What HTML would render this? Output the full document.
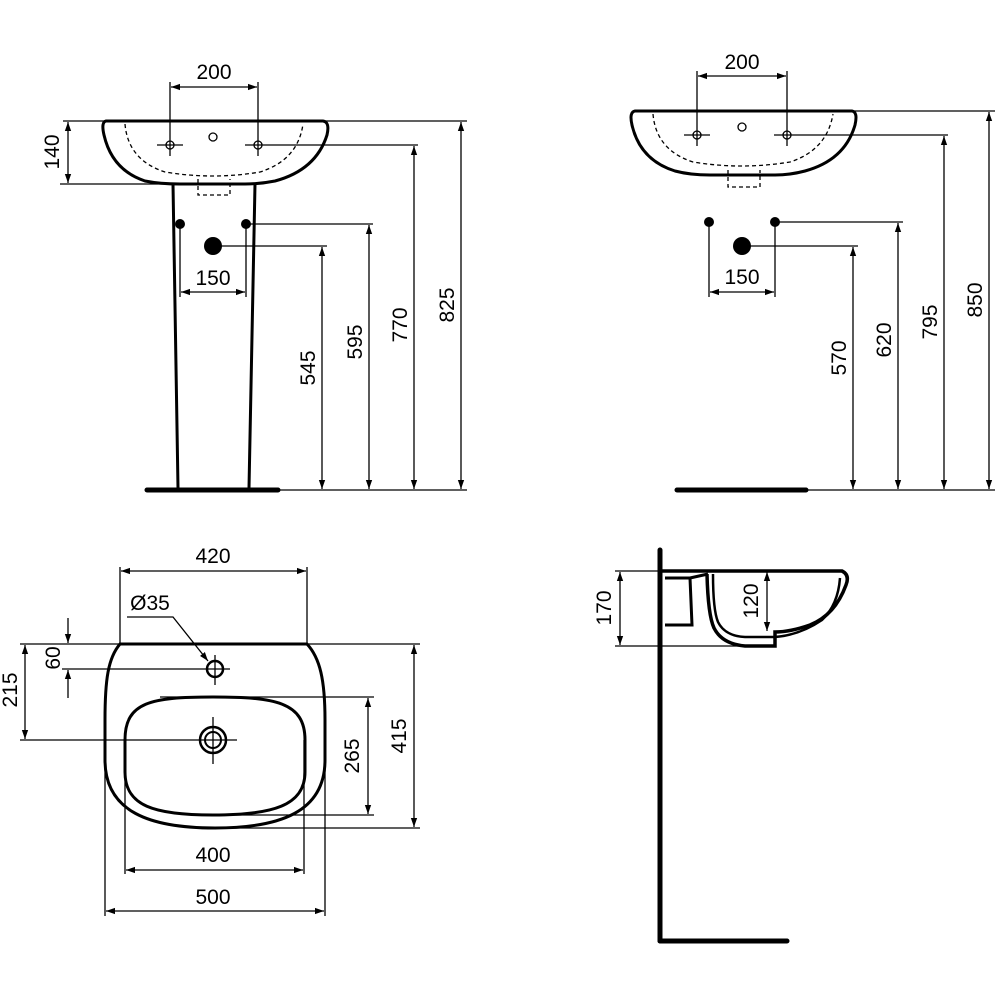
<!DOCTYPE html>
<html><head><meta charset="utf-8"><style>body{margin:0;background:#fff}svg{display:block}</style></head><body>
<svg width="1000" height="1000" viewBox="0 0 1000 1000" xmlns="http://www.w3.org/2000/svg" font-family="Liberation Sans, sans-serif" font-size="21">
<defs>
<marker id="a" viewBox="0 0 10 10" refX="10" refY="5" markerWidth="9" markerHeight="9" orient="auto-start-reverse" markerUnits="userSpaceOnUse"><path d="M0,1.5 L10,5 L0,8.5 z" fill="#000"/></marker>
</defs>
<g stroke="#000" fill="none" stroke-width="1.3">
<!-- ===== TOP LEFT ===== -->
<path d="M106,121 L323,121 Q330,122 327,135 Q316,170 275,181 Q260,184 245,184 L180,184 Q160,184 145,181 Q112,170 104,135 Q101,122 106,121 Z" stroke-width="3"/>
<path d="M125,124 Q128,160 165,172 Q213,180 260,172 Q298,160 303,124" stroke-dasharray="4,3"/>
<path d="M198,179 L198,195 L230,195 L230,179" stroke-dasharray="4,3"/>
<circle cx="213" cy="137" r="4"/>
<circle cx="170" cy="145" r="4"/><circle cx="258" cy="145" r="4"/>
<line x1="157" y1="145" x2="183" y2="145"/><line x1="245" y1="145" x2="418" y2="145"/>
<line x1="170" y1="82" x2="170" y2="156"/><line x1="258" y1="82" x2="258" y2="156"/>
<line x1="171" y1="87" x2="257" y2="87" marker-start="url(#a)" marker-end="url(#a)"/>
<path d="M173,184 L178,488 M255,184 L249,488" stroke-width="3"/>
<line x1="147" y1="490" x2="278" y2="490" stroke-width="5" stroke-linecap="round"/>
<line x1="180" y1="224" x2="180" y2="297"/><line x1="246" y1="224" x2="246" y2="297"/>
<line x1="181" y1="292" x2="245" y2="292" marker-start="url(#a)" marker-end="url(#a)"/>
<line x1="246" y1="224" x2="373" y2="224"/><line x1="213" y1="246" x2="327" y2="246"/>
<line x1="63" y1="121" x2="467" y2="121"/><line x1="60" y1="184" x2="175" y2="184"/>
<line x1="68" y1="122" x2="68" y2="183" marker-start="url(#a)" marker-end="url(#a)"/>
<line x1="278" y1="490" x2="467" y2="490"/>
<line x1="322" y1="247" x2="322" y2="489" marker-start="url(#a)" marker-end="url(#a)"/>
<line x1="369" y1="225" x2="369" y2="489" marker-start="url(#a)" marker-end="url(#a)"/>
<line x1="414" y1="146" x2="414" y2="489" marker-start="url(#a)" marker-end="url(#a)"/>
<line x1="461" y1="122" x2="461" y2="489" marker-start="url(#a)" marker-end="url(#a)"/>
<!-- ===== TOP RIGHT ===== -->
<path d="M635,111 L852,111 Q858,112 855,125 Q845,160 805,171 Q790,175 775,175 L710,175 Q690,175 675,171 Q640,160 632,125 Q629,112 635,111 Z" stroke-width="3"/>
<path d="M653,114 Q656,150 693,162 Q742,170 790,162 Q827,150 833,114" stroke-dasharray="4,3"/>
<path d="M728,170 L728,187 L760,187 L760,170" stroke-dasharray="4,3"/>
<circle cx="742" cy="127" r="4"/>
<circle cx="697" cy="135" r="4"/><circle cx="787" cy="135" r="4"/>
<line x1="684" y1="135" x2="710" y2="135"/><line x1="774" y1="135" x2="948" y2="135"/>
<line x1="697" y1="71" x2="697" y2="146"/><line x1="787" y1="71" x2="787" y2="146"/>
<line x1="698" y1="76" x2="786" y2="76" marker-start="url(#a)" marker-end="url(#a)"/>
<line x1="709" y1="222" x2="709" y2="297"/><line x1="775" y1="222" x2="775" y2="297"/>
<line x1="710" y1="292" x2="774" y2="292" marker-start="url(#a)" marker-end="url(#a)"/>
<line x1="775" y1="222" x2="903" y2="222"/><line x1="742" y1="246" x2="858" y2="246"/>
<line x1="790" y1="111" x2="995" y2="111"/>
<line x1="677" y1="490" x2="806" y2="490" stroke-width="5" stroke-linecap="round"/>
<line x1="806" y1="490" x2="995" y2="490"/>
<line x1="853" y1="247" x2="853" y2="489" marker-start="url(#a)" marker-end="url(#a)"/>
<line x1="898" y1="223" x2="898" y2="489" marker-start="url(#a)" marker-end="url(#a)"/>
<line x1="944" y1="136" x2="944" y2="489" marker-start="url(#a)" marker-end="url(#a)"/>
<line x1="989" y1="112" x2="989" y2="489" marker-start="url(#a)" marker-end="url(#a)"/>
<!-- ===== BOTTOM LEFT ===== -->
<path d="M120,644 L307,644 C320,658 325,680 325,720 L325,760 C325,812 280,828 215,828 C150,828 105,812 105,760 L105,720 C105,680 108,658 120,644 Z" stroke-width="3"/>
<path d="M213,697 C275,697 305,702 305,740 L305,772 C305,806 272,815 213,815 C154,815 125,806 125,772 L125,740 C125,702 151,697 213,697 Z" stroke-width="3"/>
<circle cx="213" cy="740" r="13" stroke-width="2.5"/><circle cx="213" cy="740" r="8" stroke-width="2"/>
<line x1="213" y1="717" x2="213" y2="764"/><line x1="20" y1="740" x2="237" y2="740"/>
<circle cx="215" cy="669" r="8" stroke-width="2.5"/>
<line x1="215" y1="655" x2="215" y2="685"/><line x1="62" y1="669" x2="230" y2="669"/>
<line x1="120" y1="567" x2="120" y2="644"/><line x1="307" y1="567" x2="307" y2="644"/>
<line x1="121" y1="571" x2="306" y2="571" marker-start="url(#a)" marker-end="url(#a)"/>
<path d="M127,617 L173,617 L208,661" marker-end="url(#a)"/>
<line x1="20" y1="644" x2="420" y2="644"/>
<line x1="68" y1="618" x2="68" y2="643" marker-end="url(#a)"/>
<line x1="68" y1="698" x2="68" y2="670" marker-end="url(#a)"/>
<line x1="25" y1="645" x2="25" y2="739" marker-start="url(#a)" marker-end="url(#a)"/>
<line x1="160" y1="697" x2="374" y2="697"/><line x1="215" y1="815" x2="374" y2="815"/>
<line x1="368" y1="698" x2="368" y2="814" marker-start="url(#a)" marker-end="url(#a)"/>
<line x1="200" y1="828" x2="420" y2="828"/>
<line x1="414" y1="645" x2="414" y2="827" marker-start="url(#a)" marker-end="url(#a)"/>
<line x1="125" y1="740" x2="125" y2="874"/><line x1="304" y1="740" x2="304" y2="874"/>
<line x1="126" y1="870" x2="303" y2="870" marker-start="url(#a)" marker-end="url(#a)"/>
<line x1="105" y1="760" x2="105" y2="916"/><line x1="325" y1="760" x2="325" y2="916"/>
<line x1="106" y1="911" x2="324" y2="911" marker-start="url(#a)" marker-end="url(#a)"/>
<!-- ===== BOTTOM RIGHT ===== -->
<line x1="660" y1="550" x2="660" y2="941" stroke-width="5" stroke-linecap="round"/>
<line x1="660" y1="941" x2="787" y2="941" stroke-width="5" stroke-linecap="round"/>
<path d="M662,571 L842,571 Q850,575 846,585 Q835,615 810,625 Q790,632 775,632 L775,646 L745,646 Q722,644 714,628 Q708,615 707,574" stroke-width="3.5"/>
<path d="M713,574 Q713,610 718,622 Q725,636 745,637 L775,637 Q800,635 822,620 Q838,605 840,578" stroke-width="2.5"/>
<path d="M665,578 L690,578 L692,625 L665,625 M690,578 L708,574" stroke-width="3"/>
<line x1="615" y1="571" x2="665" y2="571"/><line x1="615" y1="646" x2="770" y2="646"/>
<line x1="620" y1="572" x2="620" y2="645" marker-start="url(#a)" marker-end="url(#a)"/>
<line x1="767" y1="572" x2="767" y2="631" marker-start="url(#a)" marker-end="url(#a)"/>
</g>
<g fill="#000">
<circle cx="180" cy="224" r="5"/><circle cx="246" cy="224" r="5"/><circle cx="213" cy="246" r="9"/>
<circle cx="709" cy="222" r="5"/><circle cx="775" cy="222" r="5"/><circle cx="742" cy="246" r="9"/>
<g text-anchor="middle">
<text x="214" y="79">200</text><text x="213" y="285">150</text>
<text x="742" y="69">200</text><text x="742" y="284">150</text>
<text x="213" y="563">420</text><text x="150" y="610">Ø35</text>
<text x="213" y="862">400</text><text x="213" y="904">500</text>
<text transform="translate(59,152) rotate(-90)">140</text>
<text transform="translate(315,368) rotate(-90)">545</text>
<text transform="translate(362,342) rotate(-90)">595</text>
<text transform="translate(407,325) rotate(-90)">770</text>
<text transform="translate(454,305) rotate(-90)">825</text>
<text transform="translate(846,358) rotate(-90)">570</text>
<text transform="translate(891,340) rotate(-90)">620</text>
<text transform="translate(937,322) rotate(-90)">795</text>
<text transform="translate(982,300) rotate(-90)">850</text>
<text transform="translate(60,658) rotate(-90)">60</text>
<text transform="translate(17,690) rotate(-90)">215</text>
<text transform="translate(359,756) rotate(-90)">265</text>
<text transform="translate(406,736) rotate(-90)">415</text>
<text transform="translate(611,608) rotate(-90)">170</text>
<text transform="translate(758,601) rotate(-90)">120</text>
</g>
</g>
</svg>
</body></html>
